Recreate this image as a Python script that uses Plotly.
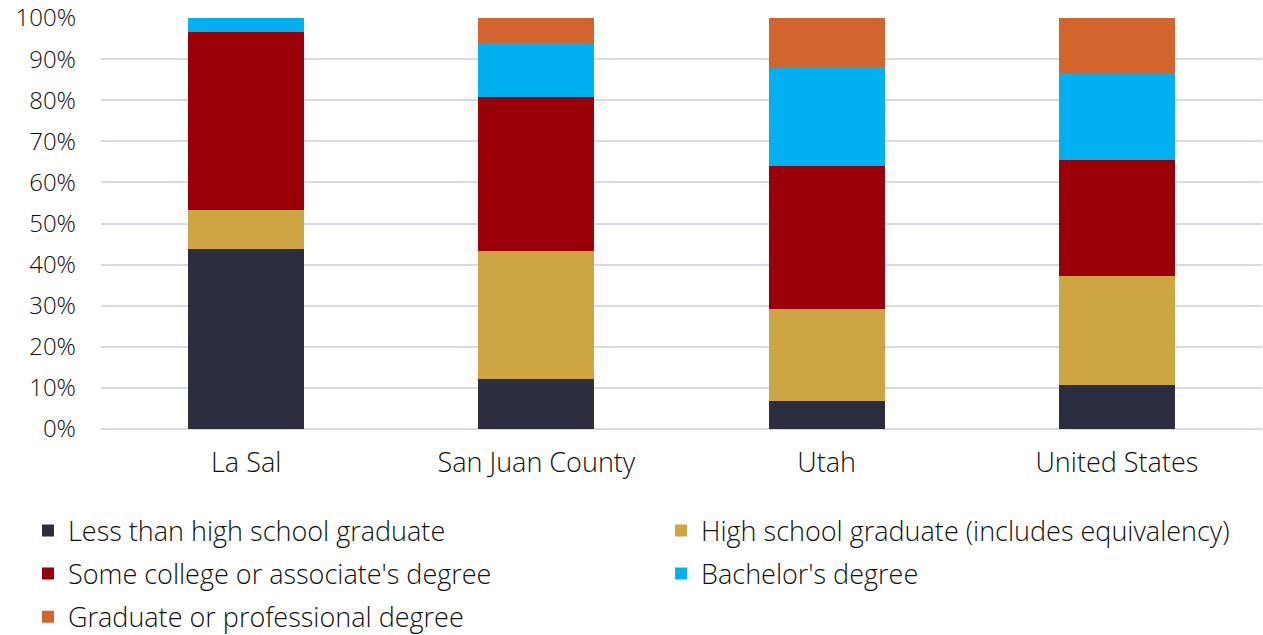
import plotly.graph_objects as go

categories = ["La Sal", "San Juan County", "Utah", "United States"]
series_names = [
    "Less than high school graduate",
    "High school graduate (includes equivalency)",
    "Some college or associate's degree",
    "Bachelor's degree",
    "Graduate or professional degree",
]
less_hs = [43.7, 12.2, 6.7, 10.8]
hs_grad = [9.6, 31.1, 22.6, 26.4]
some_college = [43.3, 37.6, 34.6, 28.3]
bachelors = [3.4, 12.9, 23.9, 21.1]
graduate = [0.0, 6.2, 12.2, 13.4]
y_ticks = [0, 10, 20, 30, 40, 50, 60, 70, 80, 90, 100]
colors = ["#2B2E3F", "#CDA542", "#990008", "#00B0F0", "#D2652D"]
legend_ids = ["legend", "legend2", "legend", "legend2", "legend"]

series_values = [less_hs, hs_grad, some_college, bachelors, graduate]

fig = go.Figure()
for i, (name, vals, col, lg) in enumerate(zip(series_names, series_values, colors, legend_ids)):
    fig.add_trace(go.Bar(
        x=categories, y=vals, name=name, legend=lg, legendgroup=f"g{i}",
        marker=dict(color=col, line=dict(width=0)),
    ))

font_family = "'Open Sans', sans-serif"
txt = "#111111"
leg_common = dict(
    orientation="v", yref="container", y=0.2025, yanchor="top",
    font=dict(size=27, color=txt, family=font_family, weight=300),
    traceorder="grouped", tracegroupgap=5, itemwidth=30,
    bgcolor="rgba(0,0,0,0)",
)
fig.update_layout(
    barmode="stack",
    bargap=0.6,
    width=1263, height=635,
    margin=dict(l=101, r=1, t=18, b=206),
    plot_bgcolor="white", paper_bgcolor="white",
    font=dict(family=font_family, size=25, color=txt, weight=300),
    showlegend=True,
    legend=dict(x=-0.0629, xanchor="left", **leg_common),
    legend2=dict(x=0.4824, xanchor="left", **leg_common),
    xaxis=dict(showgrid=False, ticks="", showline=False, ticklabelstandoff=15,
               tickfont=dict(size=27, family=font_family, color=txt, weight=300)),
    yaxis=dict(
        range=[0, 100], tickmode="array", tickvals=y_ticks,
        ticktext=[f"{v}%" for v in y_ticks],
        showgrid=True, gridcolor="#D9D9E3", gridwidth=1.5,
        zeroline=True, zerolinecolor="#D9D9E3", zerolinewidth=1.5,
        ticks="", ticklabelstandoff=24,
        tickfont=dict(size=24, family=font_family, color=txt, weight=300),
    ),
)

fig.write_html("out.html", config={"displayModeBar": False},
               post_script="document.body.style.margin='0px';")
